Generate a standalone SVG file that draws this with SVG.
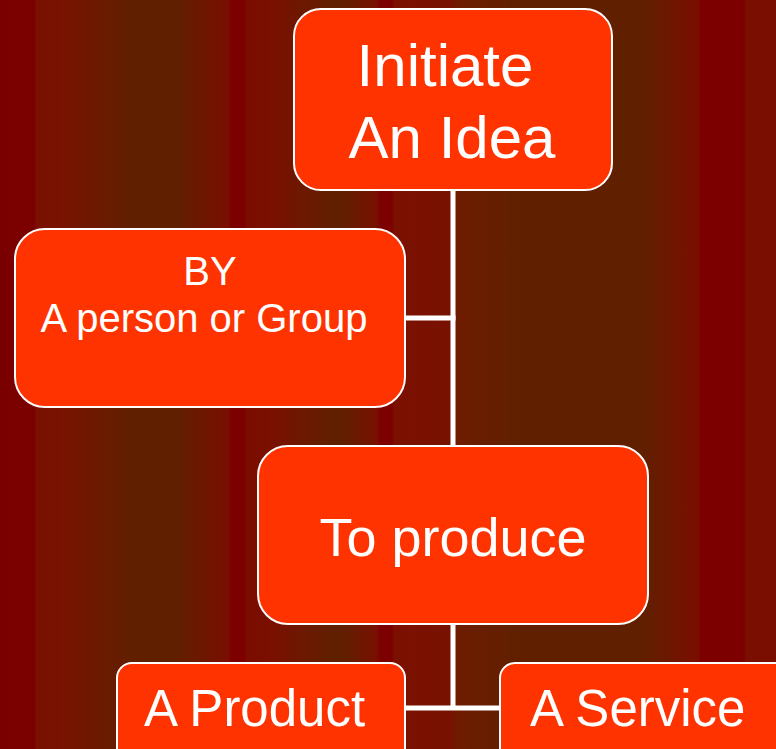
<svg xmlns="http://www.w3.org/2000/svg" width="776" height="749" viewBox="0 0 776 749">
  <defs>
    <!-- vertical striped backdrop -->
    <linearGradient id="bg" gradientUnits="userSpaceOnUse" x1="0" y1="0" x2="776" y2="0">
      <stop offset="0" stop-color="#7a0000"/>
      <stop offset="0.044" stop-color="#7c0000"/>
      <stop offset="0.047" stop-color="#7a1000"/>
      <stop offset="0.08" stop-color="#781300"/>
      <stop offset="0.175" stop-color="#602000"/>
      <stop offset="0.225" stop-color="#602000"/>
      <stop offset="0.294" stop-color="#7a0e00"/>
      <stop offset="0.298" stop-color="#7c0000"/>
      <stop offset="0.315" stop-color="#7c0000"/>
      <stop offset="0.318" stop-color="#7a0c00"/>
      <stop offset="0.35" stop-color="#7a1000"/>
      <stop offset="0.43" stop-color="#602000"/>
      <stop offset="0.44" stop-color="#602000"/>
      <stop offset="0.485" stop-color="#781000"/>
      <stop offset="0.49" stop-color="#7c0000"/>
      <stop offset="0.505" stop-color="#7c0000"/>
      <stop offset="0.508" stop-color="#7c1000"/>
      <stop offset="0.58" stop-color="#781200"/>
      <stop offset="0.59" stop-color="#6e1c00"/>
      <stop offset="0.67" stop-color="#602000"/>
      <stop offset="0.825" stop-color="#602000"/>
      <stop offset="0.9" stop-color="#7a0e00"/>
      <stop offset="0.903" stop-color="#7c0000"/>
      <stop offset="0.958" stop-color="#7c0000"/>
      <stop offset="0.962" stop-color="#7a0e00"/>
      <stop offset="1" stop-color="#7a0e00"/>
    </linearGradient>
  </defs>
  <style>
    .box { fill: #ff3300; stroke: #ffffff; stroke-width: 2; }
    .lbl { fill: #ffffff; font-family: "Liberation Sans", Arial, sans-serif; }
    .link { stroke: #ffffff; stroke-width: 5; fill: none; }
  </style>

  <rect x="0" y="0" width="776" height="749" fill="url(#bg)"/>

  <g id="connectors">
    <line class="link" x1="453" y1="190" x2="453" y2="446"/>
    <line class="link" x1="405" y1="318" x2="455.5" y2="318"/>
    <line class="link" x1="453" y1="624" x2="453" y2="708"/>
    <line class="link" x1="405" y1="708" x2="501" y2="708"/>
  </g>

  <g id="node-initiate">
    <rect class="box" x="294" y="9" width="318" height="181" rx="27"/>
    <text class="lbl" font-size="60" x="445" y="86" text-anchor="middle">Initiate</text>
    <text class="lbl" font-size="60" x="452" y="158" text-anchor="middle">An Idea</text>
  </g>

  <g id="node-by">
    <rect class="box" x="15" y="229" width="390" height="178" rx="30"/>
    <text class="lbl" font-size="40" x="210" y="285" text-anchor="middle">BY</text>
    <text class="lbl" font-size="40" x="204" y="332" text-anchor="middle">A person or Group</text>
  </g>

  <g id="node-produce">
    <rect class="box" x="258" y="446" width="390" height="178" rx="30"/>
    <text class="lbl" font-size="54" x="453" y="556" text-anchor="middle">To produce</text>
  </g>

  <g id="node-product">
    <rect class="box" x="117" y="663" width="288" height="110" rx="15"/>
    <text class="lbl" font-size="51" x="144" y="726">A Product</text>
  </g>

  <g id="node-service">
    <rect class="box" x="500" y="663" width="300" height="110" rx="15"/>
    <text class="lbl" font-size="51" x="530" y="726">A Service</text>
  </g>
</svg>
